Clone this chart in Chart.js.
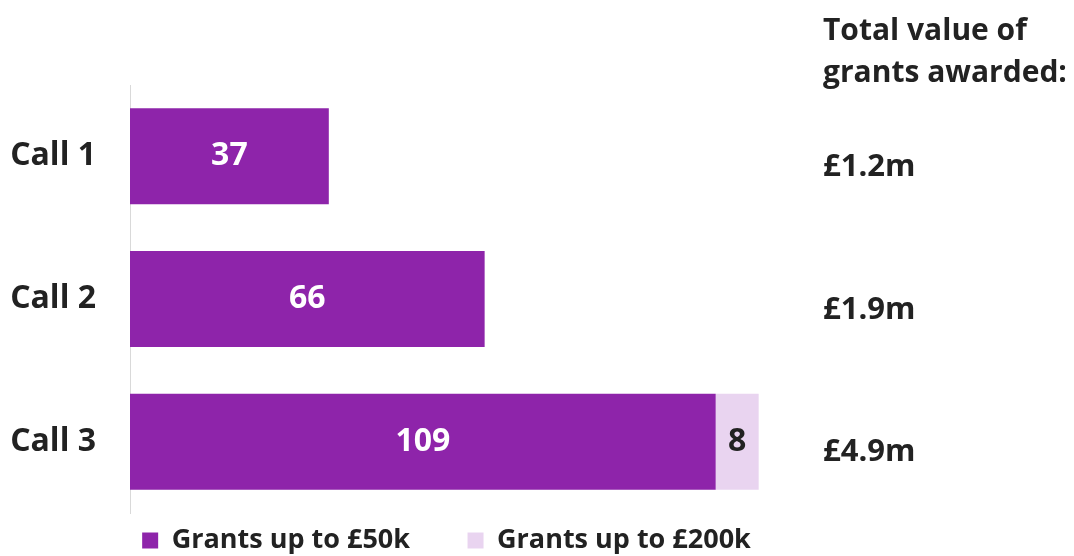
<!DOCTYPE html>
<html>
<head>
<meta charset="utf-8">
<script src="https://cdn.jsdelivr.net/npm/chart.js@4/dist/chart.umd.min.js"></script>
<style>
  html, body { margin: 0; padding: 0; background: #fff; }
  #wrap { width: 1074px; height: 556px; }
</style>
</head>
<body>
<div id="wrap"><canvas id="grantsChart" width="1074" height="556"></canvas></div>
<script>
var callLabels = ["Call 1", "Call 2", "Call 3"];
var grants50kValues = [37, 66, 109];
var grants200kValues = [0, 0, 8];
var totalValueLabels = ["£1.2m", "£1.9m", "£4.9m"];
var totalHeading = ["Total value of", "grants awarded:"];
var seriesNames = ["Grants up to £50k", "Grants up to £200k"];
var barColors = ["#8E24AA", "#E9D4F0"];
var labelColors = ["#ffffff", "#222222"];

var fontFamily = "'Open Sans', 'Noto Sans', sans-serif";
var textColor = "#222222";

// numbers inside the bars
var barLabelsPlugin = {
    id: 'barLabels',
    afterDatasetsDraw: function(chart) {
        var ctx = chart.ctx;
        ctx.save();
        ctx.font = "bold 32px " + fontFamily;
        ctx.textAlign = 'center';
        ctx.textBaseline = 'middle';
        chart.data.datasets.forEach(function(ds, di) {
            chart.getDatasetMeta(di).data.forEach(function(bar, i) {
                if (!ds.data[i]) return;
                var c = bar.getCenterPoint();
                ctx.fillStyle = labelColors[di];
                ctx.fillText(ds.data[i], c.x, c.y);
            });
        });
        ctx.restore();
    }
};

// "Total value of grants awarded" column on the right
var totalsPlugin = {
    id: 'totals',
    afterDraw: function(chart) {
        var ctx = chart.ctx;
        var yScale = chart.scales.y;
        var x = 823;
        ctx.save();
        ctx.fillStyle = textColor;
        ctx.textAlign = 'left';
        ctx.textBaseline = 'alphabetic';
        ctx.font = "bold 30px " + fontFamily;
        totalHeading.forEach(function(line, i) {
            ctx.fillText(line, x, 40 + i * 42);
        });
        ctx.textBaseline = 'middle';
        ctx.font = "bold 31px " + fontFamily;
        totalValueLabels.forEach(function(t, i) {
            ctx.fillText(t, x, yScale.getPixelForValue(i) + 11);
        });
        ctx.restore();
    }
};

new Chart("grantsChart", {
    type: "bar",
    data: {
        labels: callLabels,
        datasets: [{
            label: seriesNames[0],
            data: grants50kValues,
            backgroundColor: barColors[0],
            borderWidth: 0
        }, {
            label: seriesNames[1],
            data: grants200kValues,
            backgroundColor: barColors[1],
            borderWidth: 0
        }]
    },
    options: {
        indexAxis: 'y',
        responsive: false,
        animation: false,
        devicePixelRatio: 1,
        categoryPercentage: 1,
        barPercentage: 0.673,
        layout: {
            padding: { top: 85, left: 0, right: 181, bottom: 0 }
        },
        scales: {
            x: {
                display: false,
                stacked: true,
                min: 0,
                max: 142
            },
            y: {
                stacked: true,
                grid: { display: false, drawTicks: false },
                border: { display: true, color: '#d9d9d9', width: 1 },
                ticks: {
                    padding: 34,
                    color: textColor,
                    font: { family: fontFamily, size: 32, weight: 'bold' }
                },
                afterFit: function(scale) {
                    scale.width = 130;
                    scale.paddingTop = 0;
                    scale.paddingBottom = 0;
                }
            }
        },
        plugins: {
            tooltip: { enabled: false },
            legend: {
                position: 'bottom',
                maxHeight: 43,
                labels: {
                    boxWidth: 16,
                    boxHeight: 16,
                    padding: 14,
                    color: textColor,
                    font: { family: fontFamily, size: 27, weight: 'bold' },
                    // empty spacer entry widens the gap between the two keys
                    generateLabels: function(chart) {
                        var items = Chart.defaults.plugins.legend.labels.generateLabels(chart);
                        items.splice(1, 0, {
                            text: '',
                            fillStyle: 'rgba(0,0,0,0)',
                            strokeStyle: 'rgba(0,0,0,0)',
                            lineWidth: 0,
                            hidden: false,
                            datasetIndex: -1
                        });
                        return items;
                    }
                }
            }
        }
    },
    plugins: [barLabelsPlugin, totalsPlugin]
});
</script>
</body>
</html>
